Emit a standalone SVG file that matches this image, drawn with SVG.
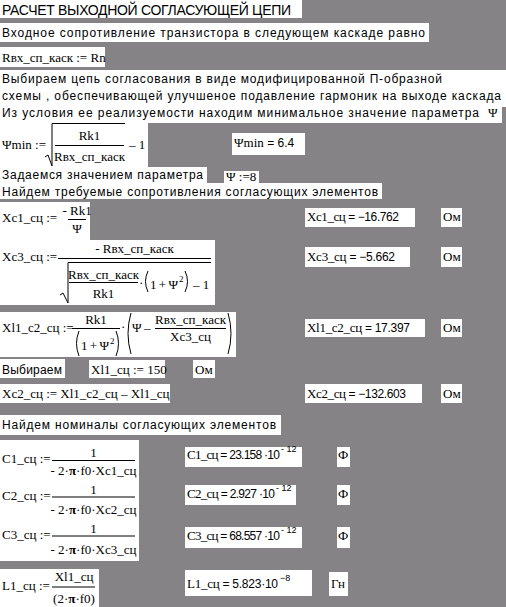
<svg xmlns="http://www.w3.org/2000/svg" width="506" height="607" viewBox="0 0 506 607">
<style>
.w{fill:#ffffff}
.s{font-family:"Liberation Sans",Arial,sans-serif;font-size:12px;fill:#000}
.t{font-family:"Liberation Sans",Arial,sans-serif;font-size:14px;fill:#000}
.m{font-family:"Liberation Serif","Times New Roman",serif;font-size:13px;fill:#000}
.n{font-family:"Liberation Sans",Arial,sans-serif;font-size:12px}
.x{font-family:"Liberation Sans",Arial,sans-serif;font-size:9px;fill:#000}
.e{font-size:9px}
.p{font-weight:bold}
.c{text-anchor:middle}
.ln{stroke:#000;stroke-width:1;fill:none}
</style>
<rect x="0" y="0" width="506" height="607" fill="#868387"/>

<g id="title">
<rect class="w" x="0" y="0" width="302" height="18"/>
<text class="t" x="2" y="15" textLength="289" lengthAdjust="spacing">РАСЧЕТ ВЫХОДНОЙ СОГЛАСУЮЩЕЙ ЦЕПИ</text>
</g>

<g id="intro">
<rect class="w" x="0" y="23" width="429" height="19"/>
<text class="s" x="2" y="37" textLength="423" lengthAdjust="spacing">Входное сопротивление транзистора в следующем каскаде равно</text>
</g>

<g id="rin">
<rect class="w" x="0" y="47" width="105" height="20"/>
<text class="m" x="2" y="62">Rвх_сп_каск := Rn</text>
</g>

<g id="paragraph">
<rect class="w" x="0" y="70" width="506" height="37"/>
<rect class="w" x="0" y="106" width="502" height="17"/>
<text class="s" x="2" y="83" textLength="440" lengthAdjust="spacing">Выбираем цепь согласования в виде модифицированной П-образной</text>
<text class="s" x="2" y="100" textLength="499" lengthAdjust="spacing">схемы , обеспечивающей улучшеное подавление гармоник на выходе каскада</text>
<text class="s" x="2" y="116.5" textLength="477" lengthAdjust="spacing">Из условия ее реализуемости находим минимальное значение параметра</text>
<text class="m" x="488" y="116.5">Ψ</text>
</g>

<g id="psimin-formula">
<rect class="w" x="0" y="123" width="148" height="45"/>
<text class="m" x="2" y="149">Ψmin :=</text>
<path class="ln" d="M45,157 L48,155 L52,166 L52,123.5 L125,123.5"/>
<text class="m c" x="89.5" y="140">Rk1</text>
<line class="ln" x1="55" y1="145.5" x2="124" y2="145.5"/>
<text class="m c" x="89.5" y="161">Rвх_сп_каск</text>
<text class="m" x="129" y="149">– 1</text>
</g>

<g id="psimin-result">
<rect class="w" x="232" y="133" width="73" height="22"/>
<text class="m" x="234" y="147">Ψmin<tspan class="n"> = 6.4</tspan></text>
</g>

<g id="psi-text">
<rect class="w" x="0" y="167" width="207" height="16"/>
<text class="s" x="2" y="178.5" textLength="201" lengthAdjust="spacing">Задаемся значением параметра</text>
</g>
<g id="psi-def">
<rect class="w" x="224" y="171" width="35" height="12.5"/>
<text class="m" x="226" y="181">Ψ :=8</text>
</g>

<g id="find-x">
<rect class="w" x="0" y="183" width="382" height="16"/>
<text class="s" x="2" y="195.5" textLength="376" lengthAdjust="spacing">Найдем требуемые сопротивления согласующих элементов</text>
</g>

<g id="xc1-formula">
<rect class="w" x="0" y="202" width="90" height="38"/>
<text class="m" x="2" y="222">Xc1_сц :=</text>
<text class="m c" x="77" y="214.5">- Rk1</text>
<line class="ln" x1="68" y1="219.5" x2="86" y2="219.5"/>
<text class="m c" x="77" y="233">Ψ</text>
</g>
<g id="xc1-result">
<rect class="w" x="305" y="208" width="110" height="19"/>
<text class="m" x="307" y="221" textLength="92" lengthAdjust="spacing">Xc1_сц<tspan class="n"> = −16.762</tspan></text>
<rect class="w" x="441" y="208" width="21" height="19"/>
<text class="m" x="443" y="221">Ом</text>
</g>

<g id="xc3-formula">
<rect class="w" x="0" y="240" width="215" height="65"/>
<text class="m" x="2" y="261">Xc3_сц :=</text>
<text class="m c" x="134.5" y="252.5">- Rвх_сп_каск</text>
<line class="ln" x1="58" y1="258.5" x2="211" y2="258.5"/>
<path class="ln" d="M60,295 L63,293 L68,303 L68,262.5 L211,262.5"/>
<text class="m c" x="103.5" y="278.5">Rвх_сп_каск</text>
<line class="ln" x1="69" y1="282.5" x2="138" y2="282.5"/>
<text class="m c" x="103.5" y="297.5">Rk1</text>
<text class="m" x="139" y="287">·</text>
<path class="ln" d="M148,271 Q143,281.5 148,292"/>
<text class="m" x="150" y="288.5" textLength="28" lengthAdjust="spacing">1 + Ψ</text>
<text class="m e" x="179" y="282">2</text>
<path class="ln" d="M185,271 Q190,281.5 185,292"/>
<text class="m" x="193" y="288.5">– 1</text>
</g>
<g id="xc3-result">
<rect class="w" x="305" y="247" width="105" height="20"/>
<text class="m" x="307" y="261" textLength="88" lengthAdjust="spacing">Xc3_сц<tspan class="n"> = −5.662</tspan></text>
<rect class="w" x="441" y="247" width="21" height="20"/>
<text class="m" x="443" y="261">Ом</text>
</g>

<g id="xl1c2-formula">
<rect class="w" x="0" y="312" width="236" height="45"/>
<text class="m" x="2" y="332">Xl1_c2_сц :=</text>
<text class="m c" x="96" y="324">Rk1</text>
<line class="ln" x1="72" y1="328.5" x2="120" y2="328.5"/>
<path class="ln" d="M79,331 Q74,343.5 79,356"/>
<text class="m" x="81" y="350" textLength="28" lengthAdjust="spacing">1 + Ψ</text>
<text class="m e" x="110" y="343.5">2</text>
<path class="ln" d="M116,331 Q121,343.5 116,356"/>
<text class="m" x="121" y="331">·</text>
<path class="ln" d="M131,313 Q125,333.5 131,354"/>
<text class="m" x="132" y="332">Ψ</text>
<text class="m" x="144" y="332">–</text>
<text class="m c" x="190.5" y="324">Rвх_сп_каск</text>
<line class="ln" x1="155" y1="328.5" x2="226" y2="328.5"/>
<text class="m c" x="190.5" y="341">Xc3_сц</text>
<path class="ln" d="M228,313 Q234,333.5 228,354"/>
</g>
<g id="xl1c2-result">
<rect class="w" x="305" y="319" width="120" height="18"/>
<text class="m" x="307" y="332" textLength="103" lengthAdjust="spacing">Xl1_c2_сц<tspan class="n"> = 17.397</tspan></text>
<rect class="w" x="441" y="319" width="21" height="18"/>
<text class="m" x="443" y="332">Ом</text>
</g>

<g id="choose">
<rect class="w" x="0" y="359" width="65" height="19"/>
<text class="s" x="2" y="373.5" textLength="60" lengthAdjust="spacing">Выбираем</text>
</g>
<g id="xl1-def">
<rect class="w" x="89" y="360" width="76" height="18"/>
<text class="m" x="91" y="373.5">Xl1_сц := 150</text>
<rect class="w" x="193" y="360" width="22" height="18"/>
<text class="m" x="195" y="373.5">Ом</text>
</g>

<g id="xc2-formula">
<rect class="w" x="0" y="384" width="170" height="19"/>
<text class="m" x="2" y="398">Xc2_сц := Xl1_c2_сц – Xl1_сц</text>
</g>
<g id="xc2-result">
<rect class="w" x="305" y="384" width="117" height="19"/>
<text class="m" x="307" y="398" textLength="99" lengthAdjust="spacing">Xc2_сц<tspan class="n"> = −132.603</tspan></text>
<rect class="w" x="441" y="384" width="21" height="19"/>
<text class="m" x="443" y="398">Ом</text>
</g>

<g id="find-nom">
<rect class="w" x="0" y="415" width="281" height="20"/>
<text class="s" x="2" y="429" textLength="274" lengthAdjust="spacing">Найдем номиналы согласующих элементов</text>
</g>

<g id="c-formulas">
<rect class="w" x="0" y="440" width="139" height="121"/>
<text class="m" x="2" y="463">C1_сц :=</text>
<text class="m c" x="93.5" y="456.5">1</text>
<line class="ln" x1="52" y1="460.5" x2="135" y2="460.5"/>
<text class="m c" x="93.5" y="475">- 2·<tspan class="p">π</tspan>·f0·Xc1_сц</text>
<text class="m" x="2" y="499.5">C2_сц :=</text>
<text class="m c" x="93.5" y="493.5">1</text>
<line class="ln" x1="52" y1="497" x2="135" y2="497"/>
<text class="m c" x="93.5" y="514">- 2·<tspan class="p">π</tspan>·f0·Xc2_сц</text>
<text class="m" x="2" y="538.5">C3_сц :=</text>
<text class="m c" x="93.5" y="532.5">1</text>
<line class="ln" x1="52" y1="536" x2="135" y2="536"/>
<text class="m c" x="93.5" y="554">- 2·<tspan class="p">π</tspan>·f0·Xc3_сц</text>
</g>

<g id="c1-result">
<rect class="w" x="185" y="447" width="117" height="20"/>
<text class="m" x="187" y="458.5" textLength="93" lengthAdjust="spacing">C1_сц<tspan class="n"> = 23.158 ·10</tspan></text>
<text class="x" x="281" y="451.5">- 12</text>
<rect class="w" x="337" y="447" width="13" height="20"/>
<text class="m" x="338" y="458.5">Ф</text>
</g>
<g id="c2-result">
<rect class="w" x="185" y="485" width="111" height="20"/>
<text class="m" x="187" y="497.5" textLength="88" lengthAdjust="spacing">C2_сц<tspan class="n"> = 2.927 ·10</tspan></text>
<text class="x" x="276" y="490.5">- 12</text>
<rect class="w" x="337" y="485" width="13" height="20"/>
<text class="m" x="338" y="497.5">Ф</text>
</g>
<g id="c3-result">
<rect class="w" x="185" y="527" width="117" height="21"/>
<text class="m" x="187" y="540" textLength="93" lengthAdjust="spacing">C3_сц<tspan class="n"> = 68.557 ·10</tspan></text>
<text class="x" x="281" y="533">- 12</text>
<rect class="w" x="337" y="527" width="13" height="21"/>
<text class="m" x="338" y="540">Ф</text>
</g>

<g id="l1-formula">
<rect class="w" x="0" y="569" width="99" height="38"/>
<text class="m" x="2" y="590">L1_сц :=</text>
<text class="m c" x="74" y="581">Xl1_сц</text>
<line class="ln" x1="52" y1="587" x2="95" y2="587"/>
<text class="m c" x="74" y="603">(2·<tspan class="p">π</tspan>·f0)</text>
</g>
<g id="l1-result">
<rect class="w" x="185" y="570" width="127" height="26"/>
<text class="m" x="187" y="587.5" textLength="91" lengthAdjust="spacing">L1_сц<tspan class="n"> = 5.823·10</tspan></text>
<text class="x" x="280" y="580.5">−8</text>
<rect class="w" x="329" y="572" width="19" height="24"/>
<text class="m" x="331" y="587.5">Гн</text>
</g>
</svg>
